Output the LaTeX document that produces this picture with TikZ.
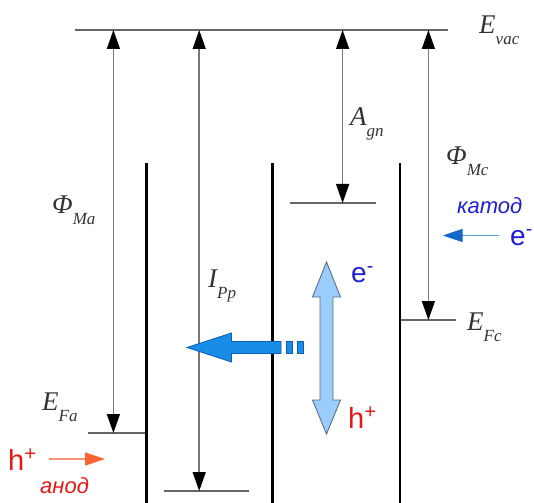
\documentclass[tikz,border=0pt]{standalone}
\usepackage{fontspec}
\setmainfont{Liberation Serif}
\newfontfamily\sansf{Liberation Sans}
\usetikzlibrary{arrows.meta}
\definecolor{gline}{RGB}{120,120,120}
\definecolor{txtblue}{RGB}{30,30,215}
\definecolor{txtred}{RGB}{232,22,22}
\definecolor{bigblue}{RGB}{25,140,230}
\definecolor{bigedge}{RGB}{10,95,180}
\definecolor{lightblue}{RGB}{155,205,250}
\definecolor{lightedge}{RGB}{85,110,140}
\definecolor{kline}{RGB}{90,160,225}
\definecolor{khead}{RGB}{20,105,200}
\definecolor{aline}{RGB}{245,150,120}
\definecolor{ahead}{RGB}{250,100,50}
\newcommand{\lbl}[2]{{\fontsize{27}{27}\selectfont\itshape #1}\raisebox{-11pt}{\fontsize{17}{17}\selectfont\itshape #2}}
\tikzset{
  levelline/.style={draw=gline!85!black, line width=1.4pt},
  wall/.style={draw=black, line width=2.4pt},
  dimarrow/.style={draw=gline, line width=1.5pt,
    {Triangle[width=13pt,length=19pt,black]}-{Triangle[width=13pt,length=19pt,black]}},
  lab/.style={anchor=base west, inner sep=0pt, text=black!80},
  sanslab/.style={anchor=base west, inner sep=0pt, font=\sansf},
}
\begin{document}
\begin{tikzpicture}[x=1pt, y=-1pt]
\useasboundingbox (0,0) rectangle (534,502);
% energy levels
\coordinate (vacL) at (75,30);   \coordinate (vacR) at (448,30);
\coordinate (faL) at (88,433);   \coordinate (faR) at (146.5,433);
\coordinate (botL) at (163.5,491); \coordinate (botR) at (248.5,491);
\coordinate (agL) at (289.5,203); \coordinate (agR) at (375.5,203);
\coordinate (fcL) at (400,320);  \coordinate (fcR) at (456,320);
\draw[levelline] (vacL) -- (vacR);
\draw[levelline] (faL) -- (faR);
\draw[levelline] (botL) -- (botR);
\draw[levelline] (agL) -- (agR);
\draw[levelline] (fcL) -- (fcR);
% walls
\coordinate (w1t) at (146.5,163.5); \coordinate (w1b) at (146.5,503);
\coordinate (w2t) at (272.5,163.5); \coordinate (w2b) at (272.5,503);
\coordinate (w3t) at (400,163.5);   \coordinate (w3b) at (400,503);
\draw[wall] (w1t) -- (w1b);
\draw[wall] (w2t) -- (w2b);
\draw[wall] (w3t) -- (w3b);
% dimension arrows
\coordinate (a1t) at (113.4,30); \coordinate (a1b) at (113.4,433);
\coordinate (a2t) at (199.2,30); \coordinate (a2b) at (199.2,491);
\coordinate (a3t) at (342.6,30); \coordinate (a3b) at (342.6,203);
\coordinate (a4t) at (428.4,30); \coordinate (a4b) at (428.4,320);
\draw[dimarrow] (a1b) -- (a1t);
\draw[dimarrow] (a2b) -- (a2t);
\draw[dimarrow] (a3b) -- (a3t);
\draw[dimarrow] (a4b) -- (a4t);
% labels
\node[lab] (Evac) at (479,34) {\lbl{E}{vac}};
\node[lab] (Agn) at (350,126) {\lbl{A}{gn}};
\node[lab] (PhiMc) at (446,165) {\lbl{Φ}{Mc}};
\node[lab] (PhiMa) at (52,214) {\lbl{Φ}{Ma}};
\node[lab] (IPp) at (208,287) {\lbl{I}{Pp}};
\node[lab] (EFc) at (467,330) {\lbl{E}{Fc}};
\node[lab] (EFa) at (42,410) {\lbl{E}{Fa}};
% big blue arrow
\filldraw[fill=bigblue, draw=bigedge, line width=0.8pt]
  (187,347.5) -- (231.5,333) -- (231.5,341.5) -- (281,341.5) -- (281,353.5)
  -- (231.5,353.5) -- (231.5,362) -- cycle;
\filldraw[fill=bigblue, draw=bigedge, line width=0.8pt] (286,341.5) rectangle (292,353.5);
\filldraw[fill=bigblue, draw=bigedge, line width=0.8pt] (297,341.5) rectangle (303,353.5);
% light blue double arrow
\filldraw[fill=lightblue, draw=lightedge, line width=0.9pt]
  (326.5,262) -- (340.5,297) -- (333,297) -- (333,400) -- (340.5,400)
  -- (326.5,434) -- (312.5,400) -- (320,400) -- (320,297) -- (312.5,297) -- cycle;
% electrons / holes
\node[sanslab, text=txtblue] (eMid) at (351,282) {\fontsize{28}{28}\selectfont e\textsuperscript{-}};
\node[sanslab, text=txtred] (hMid) at (348,428) {\fontsize{29}{29}\selectfont h\textsuperscript{+}};
% cathode
\node[sanslab, text=txtblue] (katod) at (457,214) {\fontsize{22}{22}\selectfont\itshape катод};
\node[sanslab, text=txtblue] (eR) at (510,245) {\fontsize{28}{28}\selectfont e\textsuperscript{-}};
\coordinate (k1) at (499,235.5); \coordinate (k2) at (442.7,235.5);
\draw[draw=kline, line width=1.3pt, -{Triangle[width=13pt,length=20pt,khead]}] (k1) -- (k2);
% anode
\node[sanslab, text=txtred] (hL) at (8,470) {\fontsize{29}{29}\selectfont h\textsuperscript{+}};
\node[sanslab, text=txtred] (anod) at (40,493) {\fontsize{22}{22}\selectfont\itshape анод};
\coordinate (an1) at (49,459); \coordinate (an2) at (105,459);
\draw[draw=aline, line width=1.3pt, -{Triangle[width=13pt,length=20pt,ahead]}] (an1) -- (an2);
\end{tikzpicture}
\end{document}
